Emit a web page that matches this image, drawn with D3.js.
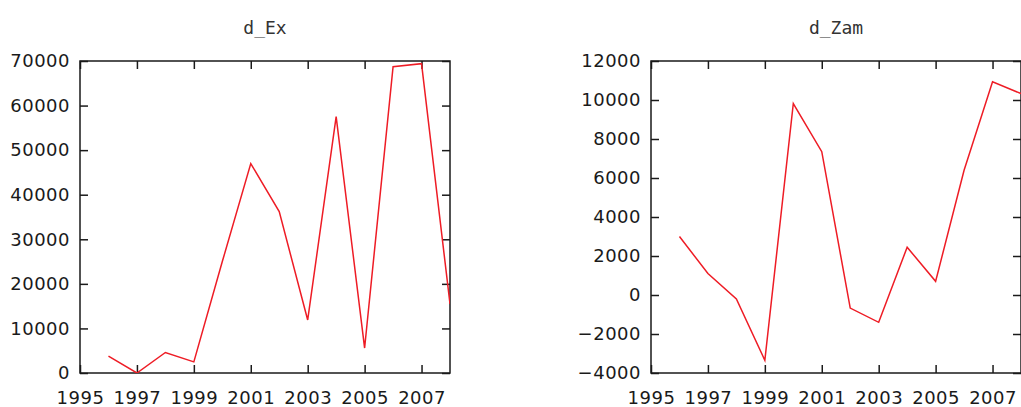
<!DOCTYPE html>
<html>
<head>
<meta charset="utf-8">
<script src="https://cdn.jsdelivr.net/npm/d3@7"></script>
<style>
  body { margin: 0; background: #fff; }
  svg { display: block; }
</style>
</head>
<body>
<svg id="chart"></svg>
<script>
// chart data
const years = [1996, 1997, 1998, 1999, 2000, 2001, 2002, 2003, 2004, 2005, 2006, 2007, 2008];
const dEx = [3800, 0, 4600, 2500, 25000, 47000, 36200, 11900, 57500, 5600, 68700, 69400, 15500];
const dZam = [3000, 1100, -200, -3350, 9820, 7350, -670, -1400, 2450, 700, 6400, 10930, 10330];
const xTicks = [1995, 1997, 1999, 2001, 2003, 2005, 2007];
const exTicks = [0, 10000, 20000, 30000, 40000, 50000, 60000, 70000];
const zamTicks = [-4000, -2000, 0, 2000, 4000, 6000, 8000, 10000, 12000];

const width = 1021;
const height = 407;
const tickFont = "DejaVu Sans";
const titleFont = "DejaVu Sans Mono";

let svg = d3.select('#chart')
  .attr('width', width)
  .attr('height', height);

// one panel: frame, inward ticks on all four sides, clipped red line
function drawPanel(opts) {
  let w = opts.right - opts.left;
  let h = opts.bottom - opts.top;
  let g = svg.append('g')
    .attr('transform', `translate(${opts.left},${opts.top})`);

  let xScale = d3.scaleLinear().domain([1995, 2008]).range([0, w]);
  let yScale = d3.scaleLinear().domain(opts.yDomain).range([h, 0]);

  g.append('clipPath').attr('id', opts.id)
    .append('rect').attr('width', w).attr('height', h);

  // bottom axis with labels
  let xb = g.append('g')
    .attr('transform', `translate(0,${h})`)
    .call(d3.axisBottom(xScale).tickValues(xTicks).tickFormat(d3.format('d'))
      .tickSize(-8).tickPadding(18));
  // top axis, ticks only
  let xt = g.append('g')
    .call(d3.axisTop(xScale).tickValues(xTicks).tickFormat('').tickSize(-8));
  // left axis with labels
  let yl = g.append('g')
    .call(d3.axisLeft(yScale).tickValues(opts.yTicks).tickFormat(d3.format('d'))
      .tickSize(-8).tickPadding(10));
  // right axis, ticks only
  let yr = g.append('g')
    .attr('transform', `translate(${w},0)`)
    .call(d3.axisRight(yScale).tickValues(opts.yTicks).tickFormat('').tickSize(-8));

  [xb, xt, yl, yr].forEach(a => {
    a.select('.domain').remove();
    a.selectAll('line').attr('stroke', '#1a1a1a').attr('stroke-width', 1.5);
    a.selectAll('text')
      .style('font-family', tickFont)
      .style('font-size', '18px')
      .style('letter-spacing', '0.5px')
      .attr('fill', '#1a1a1a');
  });

  g.append('rect')
    .attr('width', w)
    .attr('height', h)
    .attr('fill', 'none')
    .attr('stroke', '#1a1a1a')
    .attr('stroke-width', 1.5);

  let line = d3.line()
    .x((d, i) => xScale(years[i]))
    .y(d => yScale(d));

  g.append('path')
    .datum(opts.values)
    .attr('clip-path', `url(#${opts.id})`)
    .attr('d', line)
    .attr('fill', 'none')
    .attr('stroke', '#ee1c25')
    .attr('stroke-width', 1.5)
    .attr('stroke-linejoin', 'miter');

  // title
  svg.append('text')
    .attr('x', opts.left + w / 2)
    .attr('y', 34)
    .attr('text-anchor', 'middle')
    .style('font-family', titleFont)
    .style('font-size', '18px')
    .attr('fill', '#333')
    .text(opts.title);
}

drawPanel({ id: 'clipEx', title: 'd_Ex', left: 80, right: 450, top: 61, bottom: 373,
  yDomain: [0, 70000], yTicks: exTicks, values: dEx });
drawPanel({ id: 'clipZam', title: 'd_Zam', left: 651, right: 1021, top: 61, bottom: 373,
  yDomain: [-4000, 12000], yTicks: zamTicks, values: dZam });
</script>
</body>
</html>
